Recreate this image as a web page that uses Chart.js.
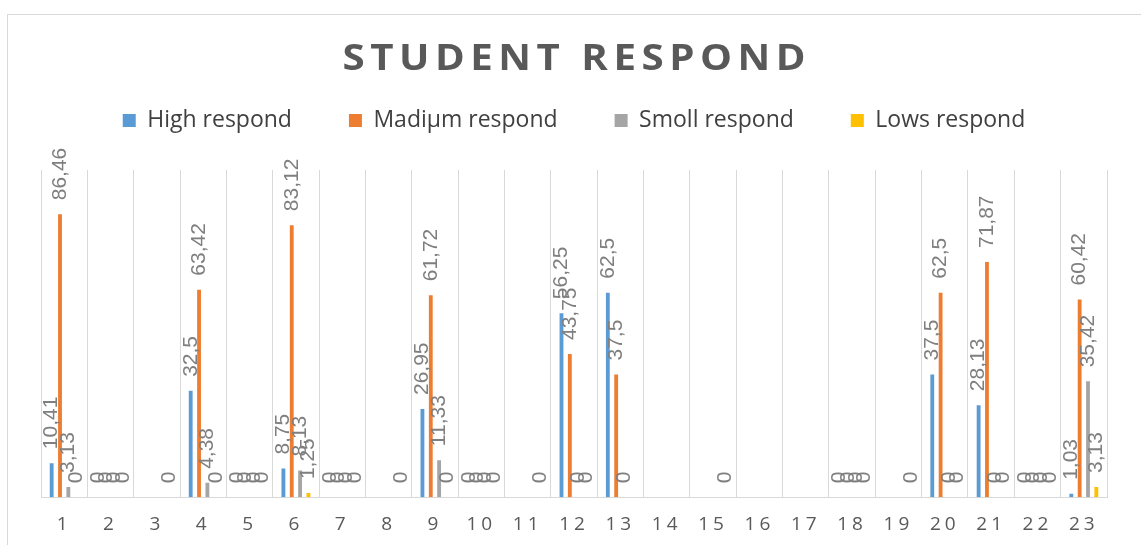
<!DOCTYPE html>
<html lang="en">
<head>
<meta charset="UTF-8">
<title>Student Respond</title>
<script src="https://cdnjs.cloudflare.com/ajax/libs/Chart.js/4.4.1/chart.umd.min.js"></script>
<style>
  html, body { margin: 0; padding: 0; background: #fff; overflow: hidden; height: 545px; }
  #frame { position: absolute; left: 7px; top: 14px; width: 1160px; height: 560px; border: 1px solid #d9d9d9; }
  #wrap { position: absolute; left: 0; top: 0; width: 1141px; height: 552px; }
</style>
</head>
<body>
<div id="frame"></div>
<div id="wrap"><canvas id="chart"></canvas></div>
<script>
  const titleText = 'STUDENT RESPOND';
  const categories = ['1', '2', '3', '4', '5', '6', '7', '8', '9', '10', '11', '12',
    '13', '14', '15', '16', '17', '18', '19', '20', '21', '22', '23'];
  const seriesNames = ['High respond', 'Madiµm respond', 'Smoll respond', 'Lows respond'];
  const seriesColors = ['#5b9bd5', '#ed7d31', '#a5a5a5', '#ffc000'];

  // null = empty cell (no bar, no label); 0 = zero value (label "0")
  const highRespond = [10.41, 0, null, 32.5, 0, 8.75, 0, null, 26.95, 0, null, 56.25,
    62.5, null, null, null, null, 0, null, 37.5, 28.13, 0, 1.03];
  const madiumRespond = [86.46, 0, null, 63.42, 0, 83.12, 0, null, 61.72, 0, null, 43.75,
    37.5, null, null, null, null, 0, null, 62.5, 71.87, 0, 60.42];
  const smollRespond = [3.13, 0, null, 4.38, 0, 8.13, 0, null, 11.33, 0, null, 0,
    0, null, null, null, null, 0, null, 0, 0, 0, 35.42];
  const lowsRespond = [0, 0, 0, 0, 0, 1.25, 0, 0, 0, 0, 0, 0,
    null, null, 0, null, null, 0, 0, 0, 0, 0, 3.13];

  const seriesData = [highRespond, madiumRespond, smollRespond, lowsRespond];

  const legendGap = 28; // extra room between legend and plot

  const valueLabels = {
    id: 'valueLabels',
    beforeLayout(chart) {
      const lg = chart.legend;
      if (lg && !lg._gapPatched) {
        const fit = lg.fit;
        lg.fit = function () {
          fit.call(this);
          this.height += legendGap;
        };
        lg._gapPatched = true;
      }
    },
    beforeDraw(chart) {
      chart.ctx.letterSpacing = '0px';
    },
    afterDatasetsDraw(chart) {
      const ctx = chart.ctx;
      ctx.save();
      ctx.font = '21px "Liberation Sans Narrow", "Liberation Sans", sans-serif';
      ctx.fillStyle = '#7f7f7f';
      ctx.textAlign = 'left';
      ctx.textBaseline = 'middle';
      chart.data.datasets.forEach((ds, i) => {
        chart.getDatasetMeta(i).data.forEach((bar, j) => {
          const v = ds.data[j];
          if (v === null) return;
          ctx.save();
          ctx.translate(bar.x, bar.y - 14);
          ctx.rotate(-Math.PI / 2);
          ctx.fillText(String(v).replace('.', ','), 0, 0);
          ctx.restore();
        });
      });
      ctx.restore();
      // x tick labels are drawn after this (ticks.z = 1), spaced out like the original
      ctx.letterSpacing = '4px';
    },
    afterDraw(chart) {
      const ctx = chart.ctx;
      const area = chart.chartArea;
      ctx.save();
      ctx.letterSpacing = '4.8px';
      ctx.font = 'bold 35px "Open Sans", sans-serif';
      ctx.fillStyle = '#595959';
      ctx.textAlign = 'center';
      ctx.textBaseline = 'alphabetic';
      ctx.translate((area.left + area.right) / 2, 70);
      ctx.scale(1.15, 1);
      ctx.fillText(titleText, 2.4, 0);
      ctx.restore();
      ctx.letterSpacing = '0px';
    }
  };

  const ctx = document.getElementById('chart').getContext('2d');
  new Chart(ctx, {
    type: 'bar',
    data: {
      labels: categories,
      datasets: seriesNames.map((name, i) => ({
        label: name,
        data: seriesData[i],
        backgroundColor: seriesColors[i],
        borderWidth: 0,
        categoryPercentage: 0.72,
        barPercentage: 0.46
      }))
    },
    options: {
      responsive: true,
      maintainAspectRatio: false,
      animation: false,
      layout: { padding: { top: 52, left: 41, right: 34, bottom: 0 } },
      plugins: {
        title: { display: false },
        tooltip: { enabled: false },
        legend: {
          position: 'top',
          labels: {
            boxWidth: 13,
            boxHeight: 13,
            padding: 57,
            color: '#404040',
            font: { family: '"Open Sans", sans-serif', size: 23 }
          }
        }
      },
      scales: {
        x: {
          grid: { color: '#d9d9d9', drawTicks: false, offset: true },
          border: { color: '#d9d9d9' },
          ticks: {
            z: 1,
            padding: 16,
            color: '#595959',
            font: { family: '"Open Sans", sans-serif', size: 19 }
          }
        },
        y: {
          display: false,
          min: 0,
          max: 100
        }
      }
    },
    plugins: [valueLabels]
  });
</script>
</body>
</html>
